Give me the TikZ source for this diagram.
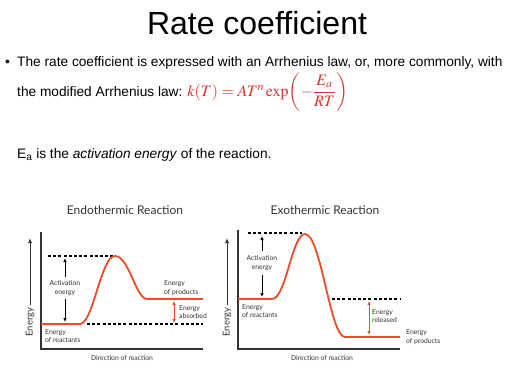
\documentclass[tikz,border=0pt]{standalone}
\usepackage{amsmath}
\usepackage{mathptmx}
\usepackage[no-math]{fontspec}
\setmainfont{Liberation Sans}
\newfontfamily\diagfont{Lato}
\usetikzlibrary{arrows.meta}
\usepackage{xcolor}
\definecolor{curvered}{HTML}{EE4B2B}
\definecolor{eqred}{HTML}{D9342B}
\definecolor{axisgray}{HTML}{333333}

\tikzset{
  axis/.style={line width=1.2pt,axisgray},
  curve/.style={line width=1.8pt,curvered},
  dashline/.style={line width=1.1pt,dash pattern=on 3pt off 2.2pt},
  smalllbl/.style={font=\diagfont\fontsize{6.8}{8.5}\selectfont,inner sep=0pt,text=axisgray},
  plottitle/.style={font=\diagfont\fontsize{12}{14}\selectfont,inner sep=0pt,text=axisgray},
  slidetext/.style={font=\fontsize{13.7}{16}\selectfont,inner sep=0pt,anchor=base west},
}

\begin{document}
\begin{tikzpicture}[x=1pt,y=-1pt]
    \useasboundingbox[fill=white] (0,0) rectangle (512,386);

    % Titel und Text
    \node[font=\fontsize{32}{35}\selectfont,inner sep=0pt,anchor=base] (title) at (257,34) {Rate coefficient};
    \node[slidetext] (bullet) at (5,66) {\textbullet};
    \node[slidetext] (line1) at (17,66) {The rate coefficient is expressed with an Arrhenius law, or, more commonly, with};
    \node[slidetext] (line2) at (17,96) {the modified Arrhenius law:};
    \node[font=\fontsize{16}{18}\selectfont,inner sep=0pt,anchor=base west,text=eqred] (formula) at (line2.base east) {~$k(T)=AT^n\exp\biggl(-\dfrac{E_a}{RT}\biggr)$};
    \node[slidetext] (line3) at (17,158) {E\textsubscript{a} is the \textit{activation energy} of the reaction.};

    % Endotherm
    \node[plottitle] (endotitle) at (125,210) {Endothermic Reaction};
    \draw[axis] (41,232) -- (41,349) -- (203,349);
    \node[smalllbl,font=\diagfont\fontsize{9.5}{11}\selectfont,rotate=90] (enL) at (30,322) {Energy};
    \coordinate (enTopL) at (30,238);
    \draw[axisgray,line width=0.9pt,-{Latex[length=5pt,width=4pt]}] (enL.east) ++(0,-2) -- (enTopL);
    \draw[dashline] (48,256) -- (113,256);
    \draw[dashline] (87,324) -- (203,324);
    \draw[curve] (41,324) -- (80,324) .. controls (93,324) and (101,256) .. (115,256)
        .. controls (129,256) and (136,299) .. (147,299) -- (203,299);
    \node[smalllbl,align=center] (actL) at (65,288) {Activation\\energy};
    \coordinate (actTopL) at (65,258);
    \coordinate (actBotL) at (65,322);
    \draw[line width=0.8pt,-{Latex[length=4pt,width=3.5pt]}] (actL.north) ++(0,-3) -- (actTopL);
    \draw[line width=0.8pt,-{Latex[length=4pt,width=3.5pt]}] (actL.south) ++(0,3) -- (actBotL);
    \node[smalllbl,align=left,anchor=west] (prodL) at (164,288) {Energy\\of products};
    \node[smalllbl,align=left,anchor=west] (absL) at (179,312) {Energy\\absorbed};
    \node[smalllbl,align=left,anchor=west] (reacL) at (45,336) {Energy\\of reactants};
    \coordinate (absTop) at (174,301);
    \coordinate (absBot) at (174,323);
    \draw[curvered,line width=0.9pt,{Latex[length=4pt,width=3.5pt]}-{Latex[length=4pt,width=3.5pt]}] (absTop) -- (absBot);
    \node[smalllbl] (dirL) at (122,358) {Direction of reaction};

    % Exotherm
    \node[plottitle] (exotitle) at (325,210) {Exothermic Reaction};
    \draw[axis] (238,230) -- (238,349) -- (400,349);
    \node[smalllbl,font=\diagfont\fontsize{9.5}{11}\selectfont,rotate=90] (enR) at (227,322) {Energy};
    \coordinate (enTopR) at (227,238);
    \draw[axisgray,line width=0.9pt,-{Latex[length=5pt,width=4pt]}] (enR.east) ++(0,-2) -- (enTopR);
    \draw[dashline] (248,233) -- (302,233);
    \draw[dashline] (332,299) -- (400,299);
    \draw[curve] (238,299) -- (272,299) .. controls (286,299) and (292,234) .. (305,234)
        .. controls (321,234) and (330,337) .. (345,337) -- (400,337);
    \node[smalllbl,align=center] (actR) at (262,263) {Activation\\energy};
    \coordinate (actTopR) at (262,236);
    \coordinate (actBotR) at (262,297);
    \draw[line width=0.8pt,-{Latex[length=4pt,width=3.5pt]}] (actR.north) ++(0,-4) -- (actTopR);
    \draw[line width=0.8pt,-{Latex[length=4pt,width=3.5pt]}] (actR.south) ++(0,4) -- (actBotR);
    \node[smalllbl,align=left,anchor=west] (reacR) at (242,311) {Energy\\of reactants};
    \node[smalllbl,align=left,anchor=west] (relR) at (372,316) {Energy\\released};
    \node[smalllbl,align=left,anchor=west] (prodR) at (406,337) {Energy\\of products};
    \coordinate (relTop) at (369,301);
    \coordinate (relBot) at (369,335);
    \draw[curvered,line width=0.9pt,{Latex[length=4pt,width=3.5pt]}-{Latex[length=4pt,width=3.5pt]}] (relTop) -- (relBot);
    \node[smalllbl] (dirR) at (322,358) {Direction of reaction};

\end{tikzpicture}
\end{document}
